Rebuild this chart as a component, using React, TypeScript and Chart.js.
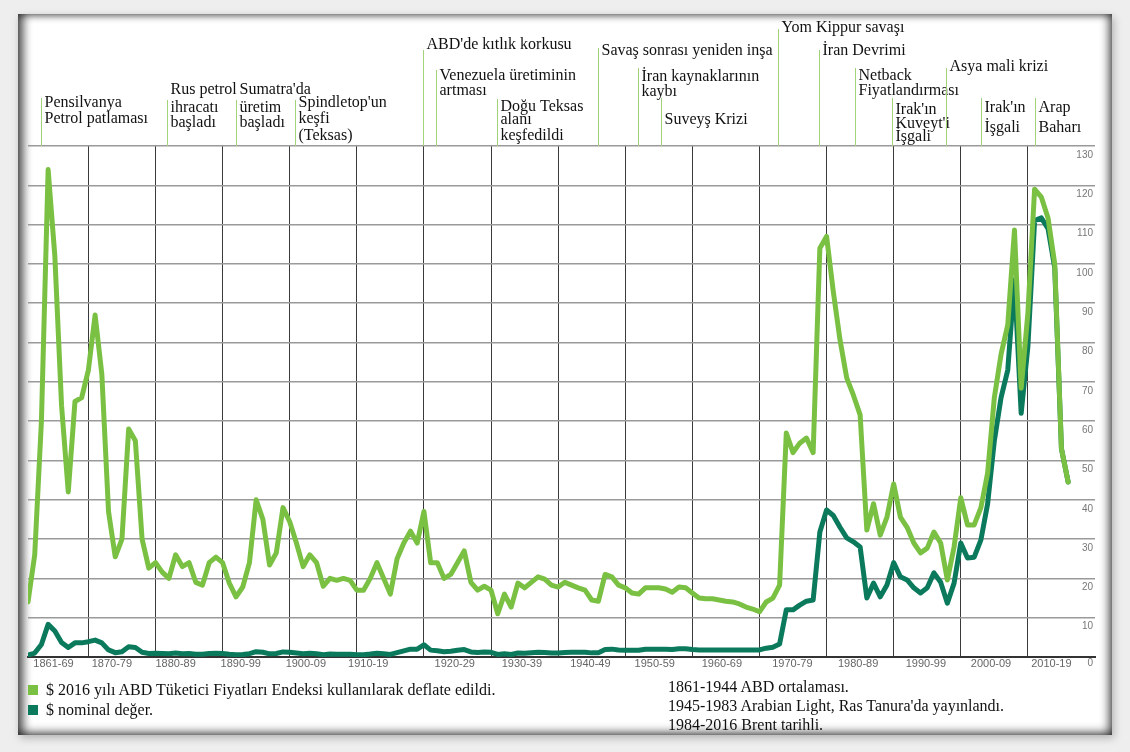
import React, { useEffect, useRef } from "react";
import { Chart, registerables } from "chart.js";

Chart.register(...registerables);

// ---------- DATA ----------
const firstYear = 1861;

// $ 2016 (deflated with US CPI)
const realPrice: number[] = [
  // 1861-1900
  14, 26, 60, 124, 102, 64, 42, 65, 66, 73, 87, 72, 37, 25.5, 30, 58, 55, 30, 22.6, 24,
  21.6, 20, 26, 23, 24, 19, 18.3, 24, 25.4, 24, 18.8, 15.3, 17.8, 24, 40, 35, 23.4, 26.5, 38, 34.4,
  // 1901-1930
  29, 23, 26, 24, 18, 20, 19.5, 20, 19.5, 17, 17, 20, 24, 20, 16, 25, 29, 32, 29, 37,
  24, 24, 20, 21, 24, 27, 19, 17, 18, 17,
  // 1931-1973
  11, 16, 12.7, 18.8, 17.6, 19, 20.4, 19.8, 18.3, 17.8, 19, 18.3, 17.6, 17, 14.5, 14.2, 21, 20.4, 18.3, 17.6,
  16.3, 16, 17.6, 17.6, 17.6, 17.3, 16.5, 17.8, 17.6, 16.3, 15, 14.8, 14.8, 14.5, 14.2, 14, 13.5, 12.7, 12.2, 11.5,
  14, 15, 18.3,
  // 1974-2016
  57, 52, 54.4, 55.7, 52, 104, 107, 93, 80.7, 71, 66.6, 61.6, 32.3, 39, 31, 35.6, 44, 35.6, 33, 29,
  26.5, 27.7, 31.8, 29, 19.6, 28, 40.5, 33.6, 33.6, 38, 46.8, 66, 77, 84.5, 108.6, 68.4, 87.5, 119, 117, 111.7,
  100, 53, 44.5,
];

// $ nominal
const nominalPrice: number[] = [
  // 1861-1900
  0.5, 1, 3.2, 8.3, 6.6, 3.7, 2.4, 3.6, 3.6, 3.9, 4.3, 3.6, 1.8, 1.1, 1.35, 2.6, 2.4, 1.2, 0.9, 0.95,
  0.9, 0.8, 1, 0.85, 0.9, 0.7, 0.7, 0.9, 0.95, 0.9, 0.7, 0.6, 0.65, 0.85, 1.35, 1.2, 0.8, 0.9, 1.3, 1.2,
  // 1901-1930
  1, 0.8, 0.95, 0.85, 0.6, 0.75, 0.7, 0.7, 0.7, 0.6, 0.6, 0.75, 0.95, 0.8, 0.65, 1.1, 1.55, 2, 2, 3.1,
  1.75, 1.6, 1.35, 1.45, 1.7, 1.9, 1.3, 1.15, 1.25, 1.2,
  // 1931-1973
  0.65, 0.85, 0.65, 1, 0.95, 1.1, 1.2, 1.15, 1, 1, 1.15, 1.2, 1.2, 1.2, 1.05, 1.1, 1.9, 2, 1.8, 1.7,
  1.7, 1.7, 1.95, 1.95, 1.95, 1.95, 1.9, 2.1, 2.1, 1.9, 1.8, 1.8, 1.8, 1.8, 1.8, 1.8, 1.8, 1.8, 1.8, 1.8,
  2.25, 2.5, 3.3,
  // 1974-2016
  12, 12, 13.2, 14.2, 14.5, 31.8, 37.4, 36, 33, 30.3, 29.3, 28, 15, 18.8, 15.3, 18.3, 24, 20.4, 19.6, 17.6,
  16.3, 17.6, 21.4, 19, 13.7, 18.8, 29, 25.2, 25.4, 29.8, 39, 55, 66, 73, 96, 62, 79, 111, 111.7, 109,
  99, 53, 44.5,
];

const years: number[] = realPrice.map((_, i) => firstYear + i);

const gridYears = [1870, 1880, 1890, 1900, 1910, 1920, 1930, 1940, 1950, 1960, 1970, 1980, 1990, 2000, 2010];

const decadeLabels = [
  "1861-69", "1870-79", "1880-89", "1890-99", "1900-09", "1910-19", "1920-29", "1930-39",
  "1940-49", "1950-59", "1960-69", "1970-79", "1980-89", "1990-99", "2000-09", "2010-19",
];
const decadeLabelYears = [
  1864.8, 1873.5, 1883, 1892.7, 1902.4, 1911.7, 1924.6, 1934.6,
  1944.8, 1954.4, 1964.4, 1974.9, 1984.7, 1994.8, 2004.5, 2013.5,
];

const yTickValues = [0, 10, 20, 30, 40, 50, 60, 70, 80, 90, 100, 110, 120, 130];

const eventYears = [
  1862.9, 1881.7, 1892, 1900.8, 1919.9, 1921.8, 1930.9, 1945.9, 1951.9,
  1955.3, 1972.8, 1978.9, 1984.2, 1989.8, 1997.8, 2003, 2011.1,
];
const eventLabels: string[][] = [
  ["Pensilvanya", "Petrol patlaması"],
  ["Rus petrol", "ihracatı", "başladı"],
  ["Sumatra'da", "üretim", "başladı"],
  ["Spindletop'un", "keşfi", "(Teksas)"],
  ["ABD'de kıtlık korkusu"],
  ["Venezuela üretiminin", "artması"],
  ["Doğu Teksas", "alanı", "keşfedildi"],
  ["Savaş sonrası yeniden inşa"],
  ["İran kaynaklarının", "kaybı"],
  ["Suveyş Krizi"],
  ["Yom Kippur savaşı"],
  ["İran Devrimi"],
  ["Netback", "Fiyatlandırması"],
  ["Irak'ın", "Kuveyt'i", "İşgali"],
  ["Asya mali krizi"],
  ["Irak'ın", "İşgali"],
  ["Arap", "Baharı"],
];

const seriesNames = [
  "$ 2016 yılı ABD Tüketici Fiyatları Endeksi kullanılarak deflate edildi.",
  "$ nominal değer.",
];
const sourceNotes = [
  "1861-1944 ABD ortalaması.",
  "1945-1983 Arabian Light, Ras Tanura'da yayınlandı.",
  "1984-2016 Brent tarihli.",
];

// ---------- LAYOUT / STYLE ----------
const LIGHT = "#7ac143";
const DARK = "#0b7a5c";
const EVENT_LINE = "#a3d27a";
const SERIF = '"Liberation Serif", "Times New Roman", serif';
const SANS = '"Liberation Sans", Arial, sans-serif';

// line start + text baselines (pixels) for each event label
const eventLayout: { top: number; base: number[] }[] = [
  { top: 98, base: [107, 123] },
  { top: 100, base: [94, 112, 127] },
  { top: 100, base: [94, 112, 127] },
  { top: 100, base: [107, 123, 140] },
  { top: 50, base: [49] },
  { top: 70, base: [80, 95] },
  { top: 99, base: [111, 124, 140] },
  { top: 48, base: [55] },
  { top: 68, base: [81, 96] },
  { top: 98, base: [124] },
  { top: 29, base: [32] },
  { top: 50, base: [55] },
  { top: 68, base: [80, 95] },
  { top: 98, base: [114, 128, 141] },
  { top: 68, base: [71] },
  { top: 98, base: [112, 132] },
  { top: 98, base: [112, 132] },
];

const overlayPlugin = {
  id: "overlay",
  afterDraw(chart: any) {
    const { ctx, chartArea, scales } = chart;
    const xs = scales.x;
    const ys = scales.y;
    ctx.save();

    // y tick labels (right, under each gridline)
    ctx.font = `10px ${SANS}`;
    ctx.fillStyle = "#777";
    ctx.textAlign = "right";
    ctx.textBaseline = "middle";
    yTickValues.forEach((v) => {
      const off = v === 0 ? 6 : 9;
      ctx.fillText(String(v), chartArea.right - 2, ys.getPixelForValue(v) + off);
    });

    // x decade labels
    ctx.font = `11px ${SANS}`;
    ctx.fillStyle = "#666";
    ctx.textAlign = "center";
    decadeLabels.forEach((l, i) => {
      ctx.fillText(l, xs.getPixelForValue(decadeLabelYears[i]), chartArea.bottom + 7);
    });

    // event annotations
    ctx.textAlign = "left";
    ctx.textBaseline = "alphabetic";
    ctx.font = `16px ${SERIF}`;
    eventYears.forEach((yr, i) => {
      const x = Math.round(xs.getPixelForValue(yr)) + 0.5;
      const lay = eventLayout[i];
      ctx.strokeStyle = EVENT_LINE;
      ctx.lineWidth = 1;
      ctx.beginPath();
      ctx.moveTo(x, lay.top);
      ctx.lineTo(x, chartArea.top);
      ctx.stroke();
      ctx.fillStyle = "#111";
      eventLabels[i].forEach((t, j) => {
        ctx.fillText(t, x + 3, lay.base[j]);
      });
    });

    ctx.restore();
  },
};

export default function App() {
  const ref = useRef<HTMLCanvasElement | null>(null);

  useEffect(() => {
    if (!ref.current) return;
    const chart = new Chart(ref.current, {
      type: "line",
      data: {
        datasets: [
          {
            label: seriesNames[0],
            data: years.map((y, i) => ({ x: y, y: realPrice[i] })),
            borderColor: LIGHT,
            backgroundColor: LIGHT,
            borderWidth: 5,
            pointRadius: 0,
            tension: 0,
            borderJoinStyle: "round",
            borderCapStyle: "round",
          },
          {
            label: seriesNames[1],
            data: years.map((y, i) => ({ x: y, y: nominalPrice[i] })),
            borderColor: DARK,
            backgroundColor: DARK,
            borderWidth: 5,
            pointRadius: 0,
            tension: 0,
            borderJoinStyle: "round",
            borderCapStyle: "round",
          },
        ],
      },
      options: {
        animation: false,
        responsive: false,
        devicePixelRatio: 1,
        layout: { padding: { left: 28, top: 146, right: 35, bottom: 95 } },
        plugins: { legend: { display: false }, tooltip: { enabled: false } },
        scales: {
          x: {
            type: "linear",
            min: 1861,
            max: 2020,
            afterBuildTicks: (s: any) => {
              s.ticks = gridYears.map((v) => ({ value: v }));
            },
            ticks: { display: false },
            grid: { color: "#3a3a3a", lineWidth: 1, drawTicks: false },
            border: { display: true, color: "#333", width: 2 },
          },
          y: {
            position: "right",
            min: 0,
            max: 130,
            ticks: { display: false, stepSize: 10 },
            grid: { color: "#9a9a9a", lineWidth: 1.5, drawTicks: false },
            border: { display: false },
          },
        },
      },
      plugins: [overlayPlugin],
    } as any);
    return () => chart.destroy();
  }, []);

  return (
    <div style={{ position: "absolute", left: 0, top: 0, width: 1130, height: 752, background: "#eeeeee", overflow: "hidden" }}>
      <div
        style={{
          position: "absolute",
          left: 18,
          top: 14,
          width: 1094,
          height: 721,
          background: "#fff",
          boxShadow:
            "inset 9px 0 9px -3px rgba(0,0,0,0.6), inset -7px 0 8px -3px rgba(0,0,0,0.55), inset 0 6px 7px -3px rgba(0,0,0,0.35), inset 0 -7px 8px -3px rgba(0,0,0,0.45), 2px 3px 8px rgba(0,0,0,0.25)",
        }}
      />
      <canvas ref={ref} width={1130} height={752} style={{ position: "absolute", left: 0, top: 0, width: 1130, height: 752 }} />
      <div style={{ position: "absolute", left: 28, top: 680, font: `16px ${SERIF}`, lineHeight: "20px", color: "#111", whiteSpace: "nowrap" }}>
        {seriesNames.map((n, i) => (
          <div key={n} style={{ display: "flex", alignItems: "center" }}>
            <span style={{ display: "inline-block", width: 10, height: 10, background: i === 0 ? LIGHT : DARK, marginRight: 8 }} />
            <span>{n}</span>
          </div>
        ))}
      </div>
      <div style={{ position: "absolute", left: 668, top: 677, font: `16px ${SERIF}`, lineHeight: "19px", color: "#111", whiteSpace: "nowrap" }}>
        {sourceNotes.map((n) => (
          <div key={n}>{n}</div>
        ))}
      </div>
    </div>
  );
}
